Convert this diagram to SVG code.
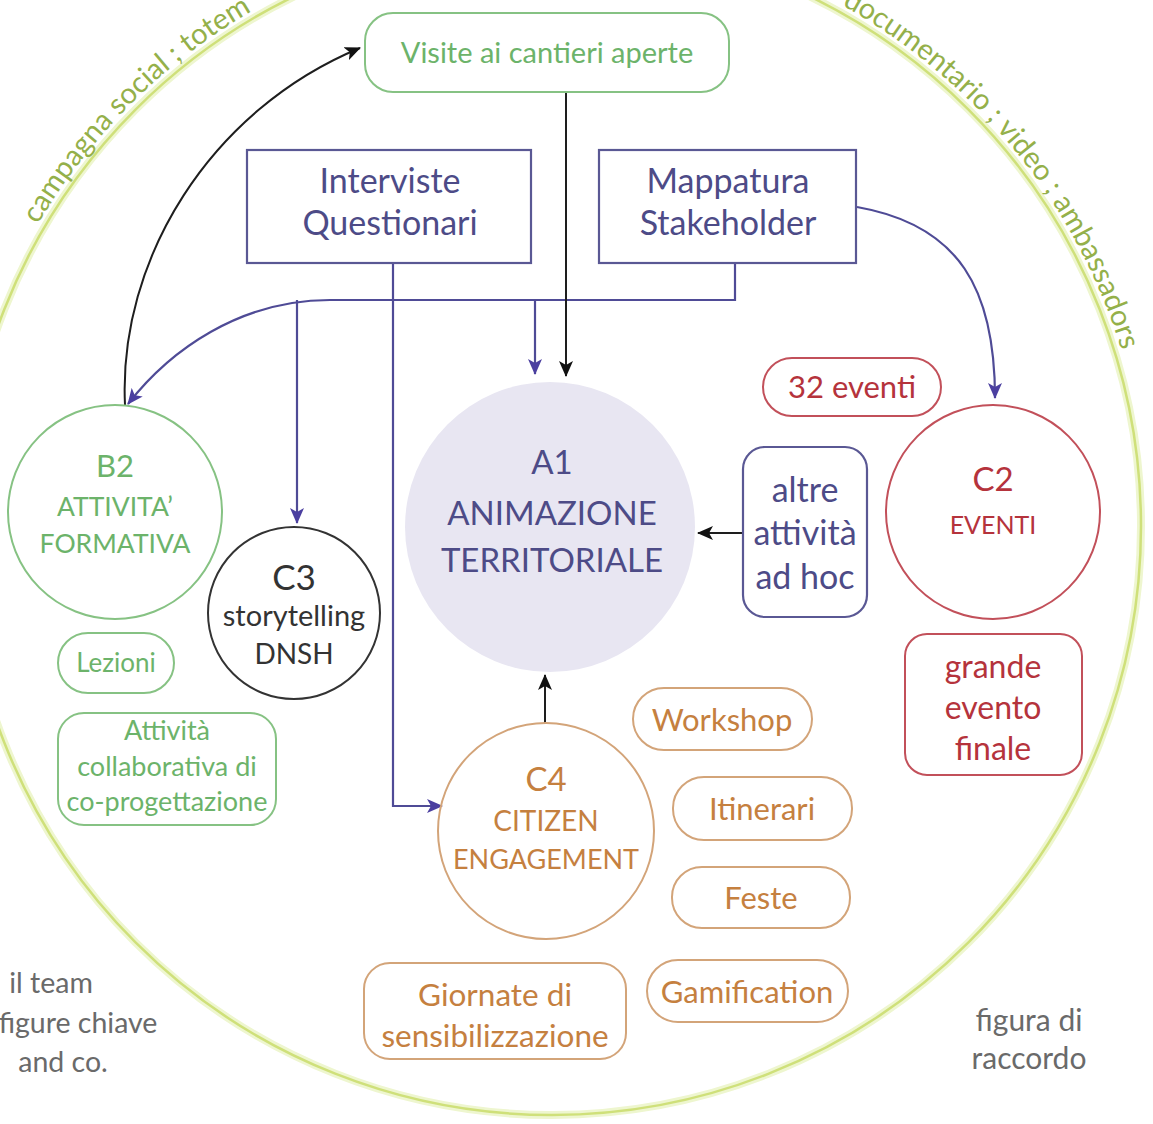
<svg xmlns="http://www.w3.org/2000/svg" width="1153" height="1124" viewBox="0 0 1153 1124">
<style>
text{font-family:Lato,"Open Sans","Liberation Sans",sans-serif;text-anchor:middle}
.g{fill:#6cb36a}.gs{fill:none;stroke:#86c283;stroke-width:2}
.p{fill:#4d4b87}.ps{fill:none;stroke:#5a5894;stroke-width:2.2}
.r{fill:#b5333c}.rs{fill:none;stroke:#c2505a;stroke-width:2}
.o{fill:#c5803f}.os{fill:none;stroke:#d3a479;stroke-width:2}
.k{fill:#333}.ks{fill:none;stroke:#333;stroke-width:2}
.gr{fill:#6a6a6a}
.arc{fill:#94b04a;font-size:29px;text-anchor:start}
.pl{fill:none;stroke:#4f4b96;stroke-width:2.2}
.bl{fill:none;stroke:#1e1e1e;stroke-width:2}
</style>
<defs>
<marker id="ab" viewBox="0 0 16 14" refX="15" refY="7" markerWidth="16" markerHeight="14" orient="auto" markerUnits="userSpaceOnUse"><path d="M0,0 L16,7 L0,14 L4,7 Z" fill="#111"/></marker>
<marker id="ap" viewBox="0 0 16 14" refX="15" refY="7" markerWidth="16" markerHeight="14" orient="auto" markerUnits="userSpaceOnUse"><path d="M0,0 L16,7 L0,14 L4,7 Z" fill="#4b3fa0"/></marker>
<path id="ring" d="M -44 526 A 596 596 0 1 1 1148 526 A 596 596 0 1 1 -44 526"/>
</defs>
<rect width="1153" height="1124" fill="#fff"/>
<g id="outer">
<circle cx="552" cy="526" r="589" fill="none" stroke="#eef6cf" stroke-width="8"/>
<circle cx="552" cy="526" r="589" fill="none" stroke="#cfe07a" stroke-width="2.5"/>
<text class="arc"><textPath href="#ring" startOffset="316">campagna social ; totem</textPath></text>
<text class="arc" style="text-anchor:end"><textPath href="#ring" startOffset="1694">documentario ; video ; ambassadors</textPath></text>
</g>
<g id="connectors">
<path class="pl" d="M735 263 V300 H330 C240 300 170 350 128 404" marker-end="url(#ap)"/>
<path class="pl" d="M297 300 V523" marker-end="url(#ap)"/>
<path class="pl" d="M535 300 V374" marker-end="url(#ap)"/>
<path class="pl" d="M393 263 V806 H442" marker-end="url(#ap)"/>
<path class="pl" d="M857 207 C960 225 995 290 995 398" marker-end="url(#ap)"/>
<path class="bl" d="M566 92 V376" marker-end="url(#ab)"/>
<path class="bl" d="M125 405 C118 260 210 110 360 48" marker-end="url(#ab)"/>
<path class="bl" d="M545 723 V675" marker-end="url(#ab)"/>
<path class="bl" d="M743 533 H698" marker-end="url(#ab)"/>
</g>
<g id="visite">
<rect class="gs" x="365" y="13" width="364" height="79" rx="28"/>
<text class="g" x="547" y="63" font-size="29">Visite ai cantieri aperte</text>
</g>
<g id="interviste">
<rect class="ps" x="247" y="150" width="284" height="113"/>
<text class="p" x="390" y="193" font-size="34">Interviste</text>
<text class="p" x="390" y="235" font-size="34">Questionari</text>
</g>
<g id="mappatura">
<rect class="ps" x="599" y="150" width="257" height="113"/>
<text class="p" x="728" y="193" font-size="34">Mappatura</text>
<text class="p" x="728" y="235" font-size="34">Stakeholder</text>
</g>
<g id="a1">
<circle cx="550" cy="527" r="145" fill="#e8e6f2"/>
<text class="p" x="552" y="474" font-size="33">A1</text>
<text class="p" x="552" y="525" font-size="33">ANIMAZIONE</text>
<text class="p" x="552" y="572" font-size="33">TERRITORIALE</text>
</g>
<g id="b2">
<circle class="gs" cx="115" cy="512" r="107"/>
<text class="g" x="115" y="477" font-size="31">B2</text>
<text class="g" x="115" y="516" font-size="26.5">ATTIVITA’</text>
<text class="g" x="115" y="553" font-size="26.5">FORMATIVA</text>
</g>
<g id="c3">
<circle class="ks" cx="294" cy="613" r="86"/>
<text class="k" x="294" y="590" font-size="35">C3</text>
<text class="k" x="294" y="626" font-size="29">storytelling</text>
<text class="k" x="294" y="664" font-size="28">DNSH</text>
</g>
<g id="lezioni">
<rect class="gs" x="58" y="633" width="116" height="60" rx="30"/>
<text class="g" x="116" y="672" font-size="26">Lezioni</text>
</g>
<g id="collab">
<rect class="gs" x="58" y="713" width="218" height="112" rx="26"/>
<text class="g" x="167" y="740" font-size="27">Attività</text>
<text class="g" x="167" y="776" font-size="27">collaborativa di</text>
<text class="g" x="167" y="811" font-size="27">co-progettazione</text>
</g>
<g id="eventi32">
<rect class="rs" x="763" y="358" width="178" height="58" rx="29"/>
<text class="r" x="852" y="398" font-size="31">32 eventi</text>
</g>
<g id="altre">
<rect class="ps" x="743" y="447" width="124" height="170" rx="22"/>
<text class="p" x="805" y="502" font-size="34">altre</text>
<text class="p" x="805" y="545" font-size="34">attività</text>
<text class="p" x="805" y="589" font-size="34">ad hoc</text>
</g>
<g id="c2">
<circle class="rs" cx="993" cy="512" r="107"/>
<text class="r" x="993" y="491" font-size="33">C2</text>
<text class="r" x="993" y="534" font-size="25">EVENTI</text>
</g>
<g id="grande">
<rect class="rs" x="905" y="634" width="177" height="141" rx="22"/>
<text class="r" x="993" y="678" font-size="32">grande</text>
<text class="r" x="993" y="719" font-size="32">evento</text>
<text class="r" x="993" y="760" font-size="32">finale</text>
</g>
<g id="c4">
<circle class="os" cx="546" cy="831" r="108"/>
<text class="o" x="546" y="791" font-size="33">C4</text>
<text class="o" x="546" y="831" font-size="28">CITIZEN</text>
<text class="o" x="546" y="869" font-size="27">ENGAGEMENT</text>
</g>
<g id="workshop">
<rect class="os" x="633" y="688" width="179" height="62" rx="31"/>
<text class="o" x="722" y="731" font-size="31">Workshop</text>
</g>
<g id="itinerari">
<rect class="os" x="673" y="777" width="179" height="63" rx="31"/>
<text class="o" x="762" y="820" font-size="31">Itinerari</text>
</g>
<g id="feste">
<rect class="os" x="672" y="867" width="178" height="61" rx="30"/>
<text class="o" x="761" y="909" font-size="31">Feste</text>
</g>
<g id="gamification">
<rect class="os" x="647" y="960" width="201" height="62" rx="31"/>
<text class="o" x="747" y="1003" font-size="31">Gamification</text>
</g>
<g id="giornate">
<rect class="os" x="364" y="963" width="262" height="96" rx="26"/>
<text class="o" x="495" y="1006" font-size="31.5">Giornate di</text>
<text class="o" x="495" y="1047" font-size="31.5">sensibilizzazione</text>
</g>
<g id="team">
<text class="gr" x="51" y="993" font-size="28.5">il team</text>
<text class="gr" x="78" y="1033" font-size="28.5">figure chiave</text>
<text class="gr" x="63" y="1072" font-size="28.5">and co.</text>
</g>
<g id="raccordo">
<text class="gr" x="1029" y="1031" font-size="30">figura di</text>
<text class="gr" x="1029" y="1069" font-size="30">raccordo</text>
</g>
</svg>
